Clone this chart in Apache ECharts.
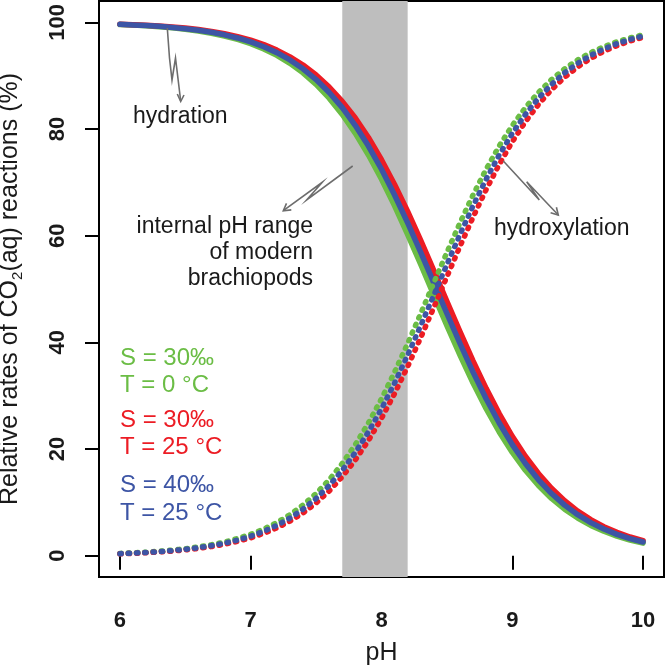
<!DOCTYPE html>
<html>
<head>
<meta charset="utf-8">
<script src="https://cdn.jsdelivr.net/npm/echarts@6/dist/echarts.min.js"></script>
<style>
html,body{margin:0;padding:0;background:#fff;}
#chart{width:666px;height:667px;}
</style>
</head>
<body>
<div id="chart"></div>
<script>
// ---- data ----
const pH = [6.0, 6.1, 6.2, 6.3, 6.4, 6.5, 6.6, 6.7, 6.8, 6.9, 7.0, 7.1, 7.2, 7.3, 7.4, 7.5, 7.6, 7.7, 7.8, 7.9,
            8.0, 8.1, 8.2, 8.3, 8.4, 8.5, 8.6, 8.7, 8.8, 8.9, 9.0, 9.1, 9.2, 9.3, 9.4, 9.5, 9.6, 9.7, 9.8, 9.9, 10.0];
// hydration (solid lines)
const hydrationS30T0  = [99.58, 99.48, 99.34, 99.17, 98.96, 98.70, 98.37, 97.95, 97.44, 96.79, 96.00, 95.01, 93.80, 92.32, 90.52, 88.35, 85.77, 82.72, 79.18, 75.12,
                         70.58, 65.58, 60.22, 54.59, 48.85, 43.14, 37.60, 32.37, 27.55, 23.19, 19.35, 16.01, 13.15, 10.73, 8.72, 7.05, 5.68, 4.57, 3.66, 2.93, 2.34];
const hydrationS30T25 = [99.65, 99.57, 99.45, 99.31, 99.14, 98.92, 98.64, 98.29, 97.86, 97.32, 96.65, 95.82, 94.79, 93.53, 91.99, 90.12, 87.87, 85.19, 82.05, 78.41,
                         74.25, 69.61, 64.54, 59.11, 53.45, 47.70, 42.01, 36.53, 31.37, 26.64, 22.39, 18.64, 15.40, 12.63, 10.30, 8.36, 6.75, 5.44, 4.37, 3.50, 2.80];
const hydrationS40T25 = [99.62, 99.52, 99.40, 99.25, 99.05, 98.81, 98.51, 98.13, 97.66, 97.07, 96.34, 95.43, 94.32, 92.95, 91.28, 89.27, 86.85, 84.00, 80.65, 76.80,
                         72.45, 67.63, 62.40, 56.86, 51.15, 45.41, 39.78, 34.42, 29.42, 24.88, 20.83, 17.28, 14.23, 11.65, 9.48, 7.68, 6.20, 4.99, 4.00, 3.21, 2.56];
// hydroxylation (dotted lines)
const hydroxylationS30T0  = [0.42, 0.52, 0.66, 0.83, 1.04, 1.30, 1.63, 2.05, 2.56, 3.21, 4.00, 4.99, 6.20, 7.68, 9.48, 11.65, 14.23, 17.28, 20.82, 24.88,
                             29.42, 34.42, 39.78, 45.41, 51.15, 56.86, 62.40, 67.63, 72.45, 76.81, 80.65, 83.99, 86.85, 89.27, 91.28, 92.95, 94.32, 95.43, 96.34, 97.07, 97.66];
const hydroxylationS30T25 = [0.35, 0.43, 0.55, 0.69, 0.86, 1.08, 1.36, 1.71, 2.14, 2.68, 3.35, 4.18, 5.21, 6.47, 8.01, 9.88, 12.13, 14.81, 17.95, 21.59,
                             25.75, 30.39, 35.46, 40.89, 46.55, 52.30, 57.99, 63.47, 68.63, 73.36, 77.61, 81.36, 84.60, 87.37, 89.70, 91.64, 93.25, 94.56, 95.63, 96.50, 97.20];
const hydroxylationS40T25 = [0.38, 0.48, 0.60, 0.75, 0.95, 1.19, 1.49, 1.87, 2.34, 2.93, 3.66, 4.57, 5.68, 7.05, 8.72, 10.73, 13.15, 16.00, 19.35, 23.20,
                             27.55, 32.37, 37.60, 43.14, 48.85, 54.59, 60.22, 65.58, 70.58, 75.12, 79.17, 82.72, 85.77, 88.35, 90.52, 92.32, 93.80, 95.01, 96.00, 96.79, 97.44];
const xTicks = [6, 7, 8, 9, 10];
const yTicks = [0, 20, 40, 60, 80, 100];
const internalPHRange = [7.7, 8.2];

const C_GREEN = '#6bbd45', C_RED = '#ec1c24', C_BLUE = '#3d55a5';
const FONT = '"Liberation Sans", Arial, sans-serif';
const TXT = '#1a1a1a';
const ARROW = '#6d6d6d';

function pairs(arr){ return pH.map((x,i)=>[x, arr[i]]); }
function solid(name, arr, color, z){
  return {name, type:'line', data:pairs(arr), symbol:'none', smooth:false,
    lineStyle:{color, width:5.5, cap:'round', join:'round'}, z, silent:true};
}
function dotted(name, arr, color, z){
  return {name, type:'line', data:pairs(arr), symbol:'none', smooth:false,
    lineStyle:{color, width:5.5, type:[1.3, 7.0], cap:'round', join:'round'}, z, silent:true};
}

const chart = echarts.init(document.getElementById('chart'), null, {renderer:'canvas'});

function txt(text, x, y, color, size, align){
  return {type:'text', x, y, z:100, style:{text, fill:color, font:`${size}px ${FONT}`, align:align||'left', verticalAlign:'middle'}};
}
function line(points){
  return {type:'polyline', z:100, shape:{points}, style:{stroke:ARROW, lineWidth:1.6, fill:null, lineJoin:'miter'}};
}

const option = {
  animation:false,
  backgroundColor:'#fff',
  grid:{left:99, right:2, top:1, bottom:90, show:true, borderColor:'#000', borderWidth:2, containLabel:false, outerBoundsMode:'none'},
  xAxis:{type:'value', min:5.84, max:10.16,
    axisLine:{show:false},
    axisTick:{show:true, customValues:xTicks, length:14, inside:false, lineStyle:{color:'#000', width:2}},
    axisLabel:{customValues:xTicks, margin:33, color:TXT, fontFamily:FONT, fontWeight:'bold', fontSize:22},
    splitLine:{show:false},
    name:'pH', nameLocation:'middle', nameGap:64,
    nameTextStyle:{color:TXT, fontFamily:FONT, fontSize:25}
  },
  yAxis:{type:'value', min:-4, max:104,
    axisLine:{show:false},
    axisTick:{show:true, customValues:yTicks, length:14, inside:false, lineStyle:{color:'#000', width:2}},
    axisLabel:{customValues:yTicks, margin:30, rotate:90, color:TXT, fontFamily:FONT, fontWeight:'bold', fontSize:22},
    splitLine:{show:false},
    name:'Relative rates of CO{sub|2}(aq) reactions (%)', nameLocation:'middle', nameGap:74, nameRotate:90,
    nameTextStyle:{color:TXT, fontFamily:FONT, fontSize:25,
      rich:{sub:{fontSize:15, fontFamily:FONT, color:TXT, padding:[14,0,0,0]}}}
  },
  series:[
    {name:'band', type:'line', data:[], silent:true, z:1,
      markArea:{silent:true, itemStyle:{color:'#bebebe', opacity:1},
        data:[[{xAxis:internalPHRange[0]},{xAxis:internalPHRange[1]}]]}},
    solid('hydration S30 T0', hydrationS30T0, C_GREEN, 3),
    solid('hydration S30 T25', hydrationS30T25, C_RED, 4),
    solid('hydration S40 T25', hydrationS40T25, C_BLUE, 5),
    dotted('hydroxylation S30 T0', hydroxylationS30T0, C_GREEN, 6),
    dotted('hydroxylation S30 T25', hydroxylationS30T25, C_RED, 7),
    dotted('hydroxylation S40 T25', hydroxylationS40T25, C_BLUE, 8)
  ],
  graphic:[
    txt('hydration', 133, 117, TXT, 23),
    txt('internal pH range', 313, 227, TXT, 23, 'right'),
    txt('of modern', 313, 253, TXT, 23, 'right'),
    txt('brachiopods', 313, 279, TXT, 23, 'right'),
    txt('hydroxylation', 494, 229, TXT, 23),
    txt('S = 30‰', 120, 358, C_GREEN, 24),
    txt('T = 0 °C', 120, 385, C_GREEN, 24),
    txt('S = 30‰', 120, 420, C_RED, 24),
    txt('T = 25 °C', 120, 447, C_RED, 24),
    txt('S = 40‰', 120, 485, C_BLUE, 24),
    txt('T = 25 °C', 120, 513, C_BLUE, 24),
    // arrows
    line([[167.3,28],[169.5,58],[172,80],[175.5,58],[180.7,101]]),
    line([[177.3,94],[180.7,101.5],[184,95]]),
    line([[352.7,166],[306.7,200],[322.3,182.3],[283.3,210.7]]),
    line([[291.3,209.9],[283.3,210.7],[286.5,203.4]]),
    line([[503.3,161],[539.3,200],[526.7,181.7],[558.3,215]]),
    line([[556.4,207.2],[558.3,215],[550.6,212.7]])
  ]
};
chart.setOption(option);
</script>
</body>
</html>
